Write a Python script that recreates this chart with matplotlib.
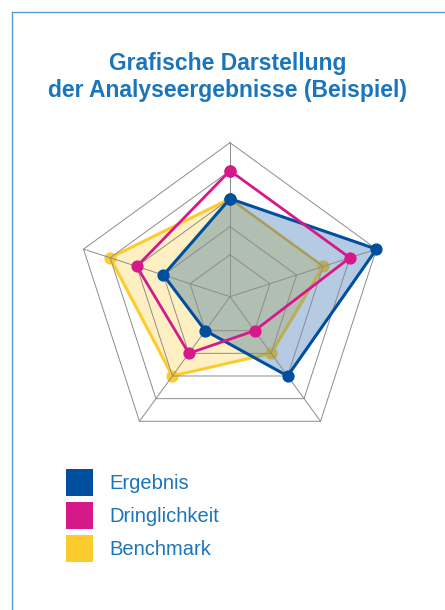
import numpy as np
import matplotlib
matplotlib.use("Agg")
import matplotlib.pyplot as plt
from matplotlib.patches import Patch
from matplotlib.lines import Line2D

# data (5 axes, clockwise from top)
series_names = ["Ergebnis", "Dringlichkeit", "Benchmark"]
ergebnis = [3, 5, 3, 1, 2]
dringlichkeit = [4, 4, 1, 2, 3]
benchmark = [3, 3, 2, 3, 4]
ring_levels = [1, 2, 3, 4, 5]

title = "Grafische Darstellung\nder Analyseergebnisse (Beispiel)"

# colours
c_blue = "#004f9e"
c_blue_fill = "#b5cbe3"
c_mag = "#d6198a"
c_yel = "#fecb2f"
c_yel_fill = "#fff0c4"
c_overlap = "#b1bfb2"
c_olive = "#bcae55"
c_text = "#1a75bb"
c_grid = "#8c8c8c"

plt.rcParams['font.family'] = ['Liberation Sans', 'DejaVu Sans']

def closed(vals):
    return list(vals) + [vals[0]]

n = len(ergebnis)
theta = np.linspace(0, 2 * np.pi, n, endpoint=False)
theta_c = np.append(theta, theta[0])

fig = plt.figure(figsize=(4.45, 6.10), dpi=100)

# radar axes: center at (230, 296.7) px, outer radius 154 px
ax = fig.add_axes([76 / 445, (610 - 296.7 - 154) / 610, 308 / 445, 308 / 610],
                  projection='polar')
ax.set_theta_zero_location('N')
ax.set_theta_direction(-1)
ax.set_ylim(-0.5, 5)
ax.grid(False)
ax.set_xticks([])
ax.set_yticks([])
ax.spines['polar'].set_visible(False)
ax.patch.set_visible(False)

ms = 7.8
line_kw = dict(marker='o', ms=ms, clip_on=False, solid_joinstyle='round')

# benchmark (bottom layer)
ax.fill(theta_c, closed(benchmark), color=c_yel_fill, lw=0, zorder=1)
ax.plot(theta_c, closed(benchmark), color=c_yel, lw=2.2, zorder=2, **line_kw)

# ergebnis fill, opaque
blue_patch = ax.fill(theta_c, closed(ergebnis), color=c_blue_fill, lw=0, zorder=3)[0]

# overlap of benchmark with ergebnis, looks like multiplied colours
ov = ax.fill(theta_c, closed(benchmark), color=c_overlap, lw=0, zorder=4)[0]
ov.set_clip_path(blue_patch)
ov_line = ax.plot(theta_c, closed(benchmark), color=c_olive, lw=2.2, zorder=5,
                  marker='o', ms=ms)[0]
ov_line.set_clip_path(blue_patch)

# pentagon grid
for lev in ring_levels:
    ax.plot(theta_c, [lev] * (n + 1), color=c_grid, lw=0.7, zorder=6, clip_on=False)
for t in theta:
    ax.plot([t, t], [-0.5, 5], color=c_grid, lw=0.7, zorder=6, clip_on=False)

# ergebnis outline and dringlichkeit
ax.plot(theta_c, closed(ergebnis), color=c_blue, lw=2.2, zorder=7, **line_kw)
ax.plot(theta_c, closed(dringlichkeit), color=c_mag, lw=2.0, zorder=8, **line_kw)

# title
fig.text(228 / 445, 1 - 77 / 610, title, ha='center', va='center',
         fontsize=16.5, fontweight='bold', color=c_text, linespacing=1.22)

# legend with square swatches
fs = 14.5
handles = [Patch(facecolor=c, edgecolor='none') for c in (c_blue, c_mag, c_yel)]
leg = fig.legend(handles, series_names, loc='upper left',
                 bbox_to_anchor=(66 / 445, 1 - 469 / 610), frameon=False,
                 fontsize=fs, handlelength=1.34, handleheight=1.686,
                 handletextpad=0.79, labelspacing=0.30, borderpad=0,
                 borderaxespad=0)
for t in leg.get_texts():
    t.set_color(c_text)

# thin blue frame on left and top
fig.add_artist(Line2D([12 / 445, 12 / 445], [0, 1 - 12 / 610], transform=fig.transFigure,
                      color="#5a9bd2", lw=1.0))
fig.add_artist(Line2D([12 / 445, 1], [1 - 12 / 610, 1 - 12 / 610], transform=fig.transFigure,
                      color="#5a9bd2", lw=1.0))

fig.savefig("out.png", dpi=100)
